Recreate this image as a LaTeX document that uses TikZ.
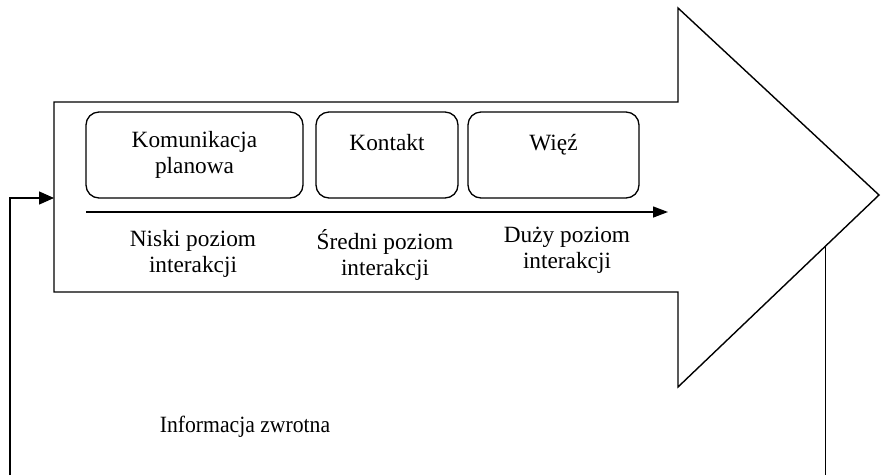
\documentclass[tikz,border=0pt]{standalone}
\usepackage{fontspec}
\setmainfont{Liberation Serif}
\usetikzlibrary{arrows.meta}

\tikzset{
  stage/.style={draw, line width=1.3pt, rounded corners=13pt, align=center,
    minimum height=86pt, inner sep=0pt, font=\fontsize{23.3}{26}\selectfont},
  level/.style={align=center, inner sep=0pt, font=\fontsize{23.3}{26}\selectfont},
  feedback/.style={line width=1pt}
}

\begin{document}
\begin{tikzpicture}[x=1pt, y=-1pt]

    \useasboundingbox (0,0) rectangle (881,475);

    % Big arrow
    \draw[line width=1.4pt, line join=miter]
        (54,102) -- (678,102) -- (678,8) -- (879,195) --
        (678,387) -- (678,292) -- (54,292) -- cycle;

    % Stages
    \node[stage, minimum width=217pt] (plan) at (194.5,155) {Komunikacja\\planowa};
    \node[stage, minimum width=142pt] (kontakt) at (387,155) {Kontakt\\\mbox{}};
    \node[stage, minimum width=171pt] (wiez) at (553.5,155) {Więź\\\mbox{}};

    % Interaction axis
    \coordinate (axisStart) at (86,212);
    \coordinate (axisEnd) at (668,212);
    \draw[line width=1.4pt, -{Triangle[length=15pt, width=11pt]}] (axisStart) -- (axisEnd);

    % Levels
    \node[level] (low) at (193,254) {Niski poziom\\interakcji};
    \node[level] (mid) at (385,255) {Średni poziom\\interakcji};
    \node[level] (high) at (567,250) {Duży poziom\\interakcji};

    % Feedback loop
    \coordinate (fbRight) at (825,246);
    \coordinate (fbRightEnd) at (825,475);
    \coordinate (fbLeftEnd) at (10,475);
    \coordinate (fbCorner) at (10,198);
    \coordinate (inlet) at (54,198);
    \draw[feedback] (fbRight) -- (fbRightEnd);
    \draw[feedback, line width=1.4pt, -{Triangle[length=15pt, width=13pt]}]
        (fbLeftEnd) -- (fbCorner) -- (inlet);

    \node[level, xscale=0.93] (fbText) at (245,427) {Informacja zwrotna};

\end{tikzpicture}
\end{document}
